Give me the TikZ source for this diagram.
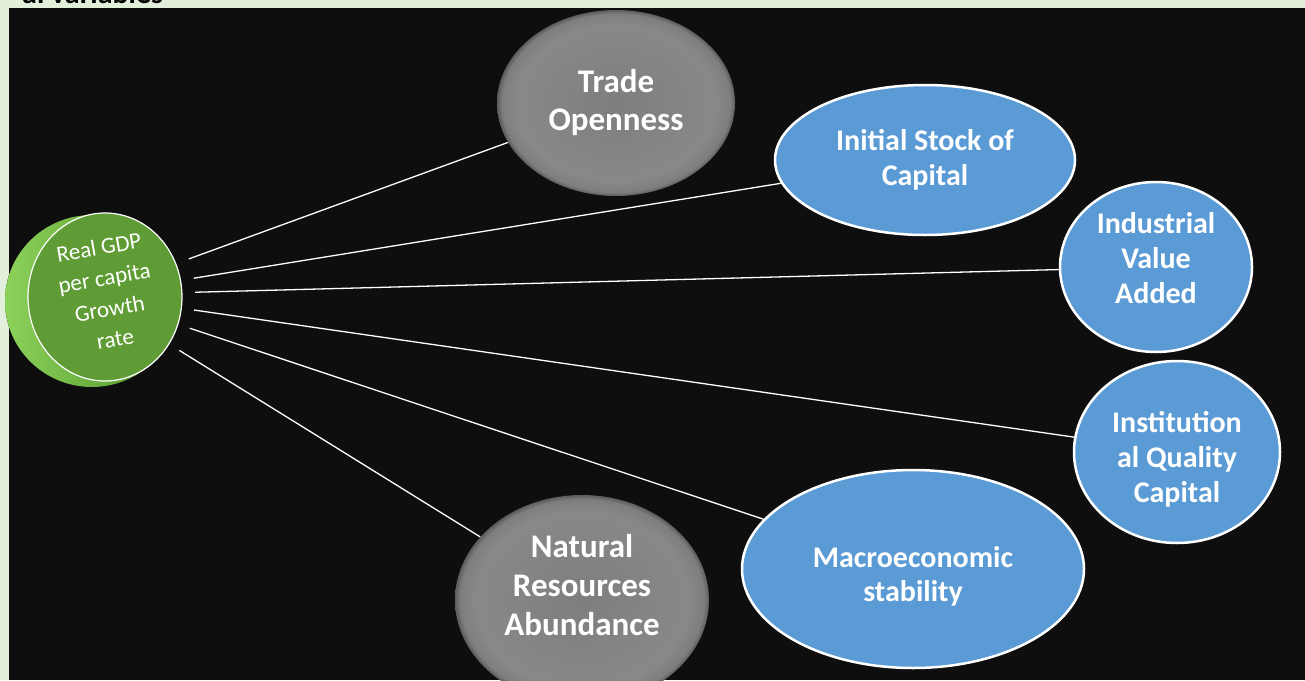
\documentclass[tikz,border=0pt]{standalone}
\usepackage{fontspec}
\setmainfont{Carlito}
\usetikzlibrary{shapes.geometric}

\definecolor{pagegreen}{HTML}{E2EFDA}
\definecolor{panelblack}{HTML}{0E0E0E}
\definecolor{ovalblue}{HTML}{5B9BD5}
\definecolor{coinface}{HTML}{5F9C35}
\definecolor{coinrimlight}{HTML}{8BD25A}
\definecolor{coinrimdark}{HTML}{4F8E27}
\definecolor{ovalgray}{HTML}{7E7E7E}
\definecolor{ovalgrayedge}{HTML}{5C5C5C}

% flat grey with a slightly darker rim
\pgfdeclareradialshading{grayoval}{\pgfpointorigin}{color(0bp)=(ovalgray);
	color(21bp)=(ovalgray!92!white); color(24bp)=(ovalgray); color(25bp)=(ovalgrayedge);
	color(50bp)=(ovalgrayedge)}

\newcommand{\txt}[2]{\fontsize{#1}{#2}\selectfont}

\begin{document}
\begin{tikzpicture}[x=1pt,y=-1pt,
	link/.style={draw=white,line width=1.3pt},
	blueoval/.style={ellipse,fill=ovalblue,draw=white,line width=2.5pt,
		text=white,font=\bfseries,align=center,inner sep=0pt},
	grayoval/.style={ellipse,shading=grayoval,
		text=white,font=\bfseries,align=center,inner sep=0pt},
	cointext/.style={text=white,align=center,inner sep=0pt,rotate=10,
		font=\txt{23}{31}}]

	\useasboundingbox (0,0) rectangle (1305,680);
	\fill[pagegreen] (0,0) rectangle (1305,680);
	\fill[panelblack] (9,8) rectangle (1305,680);

	% heading, cut off at the top of the page
	\node[anchor=base west,inner sep=0pt,text=black,font=\bfseries\txt{30}{34}]
		(heading) at (22,4) {al variables};

	% the green coin
	\fill[left color=coinrimlight,right color=coinrimdark] (92,301) ellipse [x radius=87,y radius=86];
	\fill[coinface] (105,297) ellipse [x radius=77,y radius=84];
	\draw[white,line width=1.2pt] (105,297) ellipse [x radius=77,y radius=84];
	\node[circle,minimum size=210pt,inner sep=0pt] (hub) at (90,295) {};
	\node[cointext] (gdp) at (107,293) {Real GDP\\per capita\\Growth\\rate};

	% the factors
	\node[grayoval,minimum width=238pt,minimum height=186pt,font=\bfseries\txt{33}{38}]
		(trade) at (616,103) {Trade\\Openness};
	\node[blueoval,minimum width=300pt,minimum height=150pt,font=\bfseries\txt{30}{35}]
		(capital) at (925,160) {Initial Stock of\\Capital};
	\node[blueoval,minimum width=192pt,minimum height=170pt,font=\bfseries\txt{30}{35},
		text depth=18pt] (industry) at (1156,267) {Industrial\\Value\\Added};
	\node[blueoval,minimum width=206pt,minimum height=182pt,font=\bfseries\txt{30}{35},
		text height=105pt] (institution) at (1177,452) {Institution\\al Quality\\Capital};
	\node[blueoval,minimum width=342pt,minimum height=198pt,font=\bfseries\txt{30}{34},
		text height=69pt] (macro) at (913,569) {Macroeconomic\\stability};
	\node[grayoval,minimum width=254pt,minimum height=210pt,font=\bfseries\txt{33}{39},
		text depth=31pt] (natural) at (582,600) {Natural\\Resources\\Abundance};

	\foreach \f in {trade,capital,industry,institution,macro,natural}
		\draw[link] (hub) -- (\f);
\end{tikzpicture}
\end{document}
